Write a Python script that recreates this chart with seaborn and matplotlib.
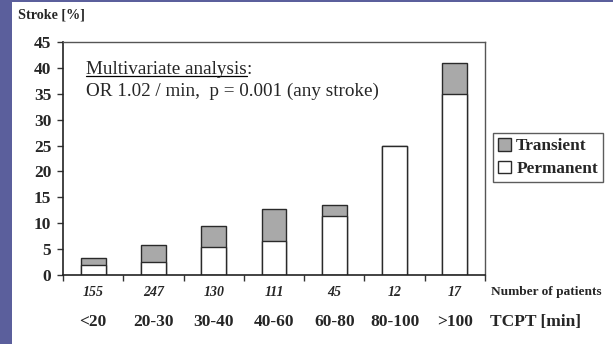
import numpy as np
import pandas as pd
import seaborn as sns
import matplotlib.pyplot as plt
from matplotlib.patches import Rectangle, Patch
from matplotlib.lines import Line2D
import matplotlib.transforms as mtransforms

# données
tcpt = ["<20", "20-30", "30-40", "40-60", "60-80", "80-100", ">100"]
n_patients = ["155", "247", "130", "111", "45", "12", "17"]
permanent = [2.0, 2.5, 5.5, 6.5, 11.3, 25.0, 35.0]
total = [3.3, 5.8, 9.5, 12.8, 13.5, 25.0, 41.0]

df = pd.DataFrame({"tcpt": tcpt, "permanent": permanent, "total": total})

sns.set_style("white")
plt.rcParams["font.family"] = ["Liberation Serif", "DejaVu Serif"]

fig = plt.figure(figsize=(6.13, 3.44), dpi=100)
fig.patch.set_facecolor("white")
# bande bleue a gauche et en haut
fig.patches.append(Rectangle((0, 0), 12 / 613, 1, transform=fig.transFigure,
                             facecolor="#5b5f9c", edgecolor="none", zorder=0))
fig.patches.append(Rectangle((0, 1 - 2 / 344), 1, 2 / 344, transform=fig.transFigure,
                             facecolor="#5b5f9c", edgecolor="none", zorder=0))

ax = fig.add_axes([63 / 613, 1 - 275 / 344, 422 / 613, 233 / 344])

edge = "#2a2a2a"
sns.barplot(data=df, x="tcpt", y="total", color="#a9a9a9", saturation=1,
            width=0.41, edgecolor=edge, linewidth=1.0, ax=ax)
sns.barplot(data=df, x="tcpt", y="permanent", color="white", saturation=1,
            width=0.41, edgecolor=edge, linewidth=1.0, ax=ax)

ax.set_ylim(0, 45)
ax.set_xlim(-0.5, 6.5)
ax.set_yticks(np.arange(0, 46, 5))
ax.set_yticklabels([str(v) for v in range(0, 46, 5)], fontsize=12.5, fontweight="bold")
ax.set_xticks(np.arange(-0.5, 7, 1))
ax.set_xticklabels([])
ax.tick_params(axis="both", direction="out", length=4.5, width=1, color="#333333",
               left=True, bottom=True, pad=4)
ax.set_xlabel("")
ax.set_ylabel("")
for side in ["left", "bottom"]:
    ax.spines[side].set_color("#222222")
    ax.spines[side].set_linewidth(1.2)
for side in ["top", "right"]:
    ax.spines[side].set_color("#555555")
    ax.spines[side].set_linewidth(1.0)

# libelles sous l'axe
trans = mtransforms.blended_transform_factory(ax.transData, ax.transAxes)
for i, (n, t) in enumerate(zip(n_patients, tcpt)):
    ax.text(i, -0.073, n, transform=trans, ha="center", va="center",
            fontsize=10, fontweight="bold", style="italic")
    ax.text(i, -0.20, t, transform=trans, ha="center", va="center",
            fontsize=12.5, fontweight="bold")
fig.text(491 / 613, 1 - 292 / 344, "Number of patients", ha="left", va="center",
         fontsize=9.6, fontweight="bold")
fig.text(490 / 613, 1 - 322 / 344, "TCPT [min]", ha="left", va="center",
         fontsize=12.5, fontweight="bold")
fig.text(18 / 613, 1 - 15 / 344, "Stroke [%]", ha="left", va="center",
         fontsize=10.2, fontweight="bold")

# annotation
fs_ann = 13.8
t1 = fig.text(86 / 613, 1 - 69 / 344, "Multivariate analysis", ha="left", va="center",
              fontsize=fs_ann)
t1b = fig.text(0, 0, ":", fontsize=fs_ann, va="center")
fig.text(86 / 613, 1 - 91 / 344, "OR 1.02 / min,  p = 0.001 (any stroke)", ha="left",
         va="center", fontsize=fs_ann)
fig.canvas.draw()
bb = t1.get_window_extent()
t1b.set_position((bb.x1 / fig.bbox.width, 1 - 69 / 344))
y_ul = (bb.y0 + 2) / fig.bbox.height
fig.lines.append(Line2D([bb.x0 / fig.bbox.width, bb.x1 / fig.bbox.width], [y_ul, y_ul],
                        transform=fig.transFigure, color="black", linewidth=0.9))

# legende
handles = [Patch(facecolor="#a9a9a9", edgecolor=edge, label="Transient"),
           Patch(facecolor="white", edgecolor=edge, label="Permanent")]
leg = fig.legend(handles=handles, loc="upper left",
                 bbox_to_anchor=(493 / 613, 1 - 133 / 344),
                 prop={"size": 12.4, "weight": "bold"}, frameon=True, fancybox=False,
                 handlelength=0.75, handleheight=0.75, handletextpad=0.3,
                 borderpad=0.3, labelspacing=0.35, borderaxespad=0)
leg.get_frame().set_edgecolor("#333333")
leg.get_frame().set_linewidth(1.0)

fig.savefig("out.png", dpi=100)
